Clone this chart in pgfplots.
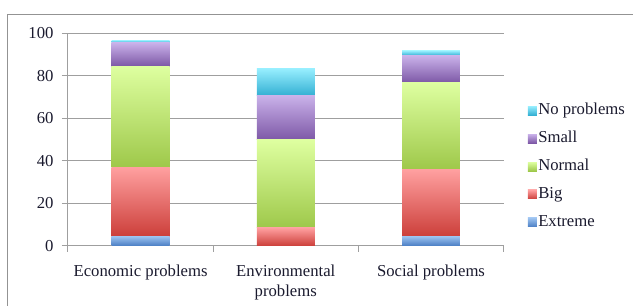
\documentclass[border=0pt]{standalone}
\usepackage{fontspec}
\setmainfont{Liberation Serif}
\usepackage{pgfplots}
\pgfplotsset{compat=1.18}
\definecolor{exT}{HTML}{9DC3F0}\definecolor{exB}{HTML}{4A7EC4}
\definecolor{bgT}{HTML}{FFA0A0}\definecolor{bgB}{HTML}{CC3F3A}
\definecolor{nmT}{HTML}{DEFFA0}\definecolor{nmB}{HTML}{9EC84A}
\definecolor{smT}{HTML}{CAB2EA}\definecolor{smB}{HTML}{7D58A6}
\definecolor{npT}{HTML}{98EFFF}\definecolor{npB}{HTML}{34B0D3}
\definecolor{txt}{HTML}{1A1A2E}
\newcommand{\ff}{\fontsize{16.7bp}{19.5bp}\selectfont}
\pgfplotsset{
  base/.style={at={(68bp,60bp)}, anchor=south west,
    scale only axis, width=436bp, height=212.7bp,
    ybar stacked, bar width=58bp,
    xmin=-0.5, xmax=2.5, ymin=0, ymax=100},
  sEx/.style={draw=none, top color=exT, bottom color=exB},
  sBg/.style={draw=none, top color=bgT, bottom color=bgB},
  sNm/.style={draw=none, top color=nmT, bottom color=nmB},
  sSm/.style={draw=none, top color=smT, bottom color=smB},
  sNp/.style={draw=none, top color=npT, bottom color=npB},
}
\begin{document}
\begin{tikzpicture}
\path (0bp,0bp) rectangle (633bp,306bp);
\draw[gray!85, line width=1bp] (8bp,0bp) -- (8bp,291bp) -- (633bp,291bp);
% Economic problems (with axis decorations and legend)
\begin{axis}[base,
  ytick={0,20,...,100},
  ymajorgrids, grid style={gray!75, line width=0.9bp},
  axis x line*=bottom, axis y line*=left,
  axis line style={gray!75, line width=0.9bp, -},
  tick style={gray!75, line width=0.9bp},
  tick align=outside, major tick length=6bp,
  xtick={-0.5,0.5,1.5,2.5},
  xticklabels={Economic problems,{Environmental\\problems},Social problems,{}},
  xticklabel style={xshift=72.67bp, align=center, font=\ff, text=txt, anchor=north, yshift=-10bp},
  yticklabel style={font=\ff, text=txt, xshift=-5bp},
  /pgf/number format/assume math mode=true,
  legend style={at={(1.055,0.682)}, anchor=north west, draw=none, fill=none,
    font=\ff, text=txt, inner sep=0pt, row sep=9bp,
    nodes={text height=12bp, text depth=4bp, inner sep=1.5bp}},
  legend cell align=left,
  reverse legend,
  legend image code/.code={\fill[#1] (0bp,-4.5bp) rectangle (9bp,4.5bp);},
]
\addplot[sEx] coordinates {(0,4.5)};
\addplot[sBg] coordinates {(0,32.5)};
\addplot[sNm] coordinates {(0,47.6)};
\addplot[sSm] coordinates {(0,11.0)};
\addplot[sNp] coordinates {(0,1.2)};
\legend{Extreme,Big,Normal,Small,No problems}
\end{axis}
% Environmental problems (Extreme = 0)
\begin{axis}[base, hide axis]
\addplot[sBg] coordinates {(1,8.5)};
\addplot[sNm] coordinates {(1,41.3)};
\addplot[sSm] coordinates {(1,21.0)};
\addplot[sNp] coordinates {(1,12.7)};
\end{axis}
% Social problems
\begin{axis}[base, hide axis]
\addplot[sEx] coordinates {(2,4.5)};
\addplot[sBg] coordinates {(2,31.4)};
\addplot[sNm] coordinates {(2,40.9)};
\addplot[sSm] coordinates {(2,12.7)};
\addplot[sNp] coordinates {(2,2.3)};
\end{axis}
\end{tikzpicture}
\end{document}
